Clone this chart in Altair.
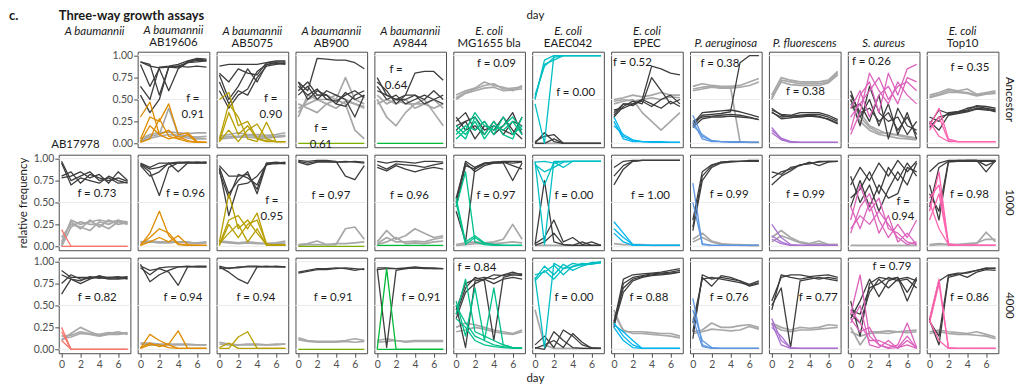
import altair as alt
import pandas as pd

# ---------------- data ----------------
DAYS = [0, 1, 2, 3, 4, 5, 6, 7]
SPECIES = ["A baumannii", "A baumannii", "A baumannii", "A baumannii", "A baumannii",
           "E. coli", "E. coli", "E. coli", "P. aeruginosa", "P. fluorescens", "S. aureus", "E. coli"]
STRAINS = ["AB17978", "AB19606", "AB5075", "AB900", "A9844", "MG1655 bla", "EAEC042", "EPEC",
           "", "", "", "Top10"]
COLORS = ["#F8766D", "#DE8C00", "#B79F00", "#7CAE00", "#00BA38", "#00C08B",
          "#00BFC4", "#00B4F0", "#5C95E0", "#A970D0", "#DC62BC", "#FF64B0"]
ROW_LABELS = ["Ancestor", "1000", "4000"]
Y_TICKS = [0, 0.25, 0.5, 0.75, 1.0]
X_TICKS = [0, 2, 4, 6]
GRID_Y = [0, 0.5, 1.0]
PANEL_TAG = "c."
MAIN_TITLE = "Three-way growth assays"
X_TITLE = "day"
Y_TITLE = "relative frequency"

# ---- Ancestor row ----
ANC_DARK = [
    [],
    [[0.93, 0.88, 0.86, 0.87, 0.88, 0.87, 0.88, 0.87], [0.93, 0.90, 0.55, 0.87, 0.86, 0.93, 0.96, 0.95],
     [0.90, 0.65, 0.85, 0.60, 0.85, 0.92, 0.95, 0.94], [0.65, 0.50, 0.87, 0.88, 0.90, 0.94, 0.97, 0.96],
     [0.55, 0.35, 0.50, 0.87, 0.88, 0.92, 0.93, 0.94]],
    [[0.88, 0.90, 0.90, 0.90, 0.90, 0.92, 0.93, 0.93], [0.80, 0.70, 0.85, 0.80, 0.78, 0.92, 0.94, 0.94],
     [0.78, 0.50, 0.65, 0.85, 0.70, 0.90, 0.92, 0.91], [0.70, 0.45, 0.60, 0.55, 0.75, 0.88, 0.90, 0.92],
     [0.60, 0.40, 0.55, 0.62, 0.82, 0.90, 0.91, 0.90]],
    [[0.70, 0.60, 0.97, 0.96, 0.95, 0.95, 0.92, 0.85], [0.65, 0.55, 0.62, 0.50, 0.48, 0.55, 0.60, 0.52],
     [0.60, 0.70, 0.55, 0.55, 0.45, 0.58, 0.50, 0.55], [0.70, 0.50, 0.60, 0.55, 0.45, 0.42, 0.55, 0.60],
     [0.55, 0.65, 0.50, 0.60, 0.55, 0.50, 0.30, 0.55]],
    [[0.75, 0.55, 0.50, 0.55, 0.80, 0.82, 0.82, 0.72], [0.70, 0.60, 0.45, 0.55, 0.55, 0.50, 0.60, 0.50],
     [0.65, 0.50, 0.55, 0.45, 0.50, 0.55, 0.50, 0.45], [0.60, 0.55, 0.50, 0.50, 0.55, 0.45, 0.50, 0.55]],
    [[0.25, 0.35, 0.15, 0.25, 0.10, 0.20, 0.35, 0.10], [0.20, 0.25, 0.05, 0.20, 0.15, 0.30, 0.15, 0.05],
     [0.30, 0.15, 0.20, 0.10, 0.25, 0.10, 0.25, 0.20], [0.15, 0.25, 0.30, 0.15, 0.20, 0.15, 0.10, 0.30]],
    [[0.00, 0.12, 0.02, 0.00, 0.00, 0.00, 0.00, 0.00], [0.02, 0.08, 0.10, 0.00, 0.00, 0.00, 0.00, 0.00],
     [0.00, 0.00, 0.05, 0.00, 0.00, 0.00, 0.00, 0.00]],
    [[0.35, 0.45, 0.45, 0.50, 0.88, 0.85, 0.80, 0.78], [0.30, 0.42, 0.48, 0.45, 0.75, 0.60, 0.45, 0.50],
     [0.38, 0.40, 0.45, 0.48, 0.42, 0.50, 0.55, 0.45], [0.32, 0.45, 0.43, 0.50, 0.45, 0.40, 0.48, 0.42]],
    [[0.20, 0.32, 0.33, 0.34, 0.36, 0.92, 1.00, 1.00], [0.22, 0.35, 0.36, 0.37, 0.38, 0.36, 0.33, 0.30],
     [0.25, 0.30, 0.31, 0.32, 0.33, 0.32, 0.30, 0.27], [0.18, 0.28, 0.30, 0.30, 0.31, 0.30, 0.29, 0.27]],
    [[0.38, 0.33, 0.32, 0.35, 0.35, 0.35, 0.32, 0.27], [0.35, 0.30, 0.31, 0.32, 0.33, 0.33, 0.30, 0.25],
     [0.40, 0.32, 0.30, 0.30, 0.31, 0.30, 0.28, 0.23], [0.36, 0.28, 0.29, 0.31, 0.32, 0.31, 0.27, 0.22]],
    [[0.60, 0.30, 0.50, 0.20, 0.45, 0.10, 0.35, 0.05], [0.50, 0.20, 0.65, 0.35, 0.25, 0.30, 0.10, 0.25],
     [0.40, 0.45, 0.25, 0.55, 0.05, 0.40, 0.20, 0.15], [0.55, 0.35, 0.40, 0.25, 0.35, 0.15, 0.30, 0.10]],
    [[0.30, 0.25, 0.35, 0.36, 0.38, 0.43, 0.42, 0.40], [0.22, 0.38, 0.34, 0.36, 0.40, 0.42, 0.40, 0.38],
     [0.18, 0.30, 0.33, 0.35, 0.37, 0.40, 0.39, 0.36], [0.25, 0.15, 0.32, 0.34, 0.36, 0.39, 0.38, 0.37]],
]
ANC_LIGHT = [
    [],
    [[0.05, 0.10, 0.12, 0.13, 0.12, 0.11, 0.12, 0.12], [0.03, 0.08, 0.10, 0.40, 0.10, 0.08, 0.07, 0.08],
     [0.02, 0.06, 0.08, 0.10, 0.09, 0.06, 0.05, 0.05]],
    [[0.08, 0.10, 0.12, 0.10, 0.10, 0.09, 0.10, 0.12], [0.06, 0.08, 0.08, 0.09, 0.08, 0.07, 0.08, 0.09],
     [0.05, 0.06, 0.07, 0.07, 0.06, 0.06, 0.07, 0.08]],
    [[0.35, 0.50, 0.55, 0.55, 0.50, 0.75, 0.50, 0.45], [0.40, 0.45, 0.50, 0.45, 0.50, 0.45, 0.15, 0.05],
     [0.30, 0.55, 0.50, 0.50, 0.55, 0.50, 0.45, 0.40], [0.45, 0.40, 0.35, 0.45, 0.40, 0.48, 0.45, 0.42]],
    [[0.55, 0.45, 0.50, 0.45, 0.45, 0.50, 0.35, 0.20], [0.50, 0.30, 0.20, 0.35, 0.45, 0.45, 0.40, 0.45],
     [0.45, 0.50, 0.45, 0.50, 0.40, 0.45, 0.50, 0.40]],
    [[0.55, 0.60, 0.63, 0.70, 0.66, 0.64, 0.60, 0.66], [0.52, 0.58, 0.62, 0.66, 0.68, 0.62, 0.63, 0.64],
     [0.50, 0.57, 0.60, 0.63, 0.64, 0.60, 0.61, 0.62]],
    [[0.00, 0.00, 0.00, 0.00, 0.00, 0.00, 0.00, 0.00]],
    [[0.50, 0.52, 0.55, 0.53, 0.55, 0.58, 0.55, 0.55], [0.48, 0.50, 0.48, 0.50, 0.52, 0.50, 0.53, 0.52],
     [0.45, 0.48, 0.50, 0.35, 0.25, 0.15, 0.25, 0.35]],
    [[0.65, 0.68, 0.66, 0.65, 0.65, 0.66, 0.70, 0.74], [0.62, 0.64, 0.65, 0.63, 0.63, 0.64, 0.66, 0.70],
     [0.60, 0.62, 0.64, 0.63, 0.64, 0.02, 0.01, 0.01]],
    [[0.55, 0.75, 0.72, 0.70, 0.70, 0.70, 0.72, 0.82], [0.50, 0.72, 0.70, 0.68, 0.68, 0.68, 0.70, 0.80],
     [0.52, 0.70, 0.67, 0.66, 0.66, 0.66, 0.69, 0.78]],
    [[0.55, 0.35, 0.20, 0.15, 0.10, 0.10, 0.08, 0.06], [0.50, 0.30, 0.18, 0.12, 0.12, 0.09, 0.07, 0.05],
     [0.45, 0.25, 0.15, 0.10, 0.08, 0.06, 0.05, 0.04]],
    [[0.55, 0.58, 0.62, 0.60, 0.62, 0.56, 0.58, 0.60], [0.53, 0.56, 0.60, 0.59, 0.58, 0.55, 0.57, 0.58],
     [0.52, 0.55, 0.58, 0.58, 0.57, 0.54, 0.56, 0.57]],
]
ANC_FOCAL = [
    [],
    [[0.30, 0.47, 0.10, 0.05, 0.08, 0.03, 0.01, 0.01], [0.05, 0.30, 0.25, 0.45, 0.10, 0.12, 0.02, 0.01],
     [0.02, 0.20, 0.10, 0.15, 0.05, 0.10, 0.01, 0.01], [0.01, 0.05, 0.28, 0.08, 0.05, 0.02, 0.01, 0.01]],
    [[0.50, 0.58, 0.20, 0.25, 0.05, 0.03, 0.02, 0.02], [0.05, 0.45, 0.30, 0.05, 0.02, 0.24, 0.02, 0.02],
     [0.02, 0.35, 0.10, 0.20, 0.05, 0.02, 0.02, 0.02], [0.02, 0.15, 0.02, 0.15, 0.22, 0.05, 0.02, 0.02]],
    [[0.00, 0.00, 0.00, 0.00, 0.00, 0.00, 0.00, 0.00]],
    [[0.00, 0.00, 0.00, 0.00, 0.00, 0.00, 0.00, 0.00]],
    [[0.15, 0.05, 0.30, 0.10, 0.25, 0.10, 0.05, 0.30], [0.20, 0.10, 0.25, 0.05, 0.20, 0.15, 0.25, 0.10],
     [0.10, 0.20, 0.15, 0.25, 0.10, 0.30, 0.10, 0.20], [0.05, 0.15, 0.35, 0.20, 0.15, 0.20, 0.30, 0.15]],
    [[0.50, 0.95, 1.00, 1.00, 1.00, 1.00, 1.00, 1.00], [0.55, 0.88, 0.98, 1.00, 1.00, 1.00, 1.00, 1.00],
     [0.45, 0.00, 1.00, 1.00, 1.00, 1.00, 1.00, 1.00], [0.52, 0.90, 0.95, 1.00, 1.00, 1.00, 1.00, 1.00]],
    [[0.30, 0.08, 0.03, 0.02, 0.02, 0.01, 0.01, 0.01], [0.25, 0.05, 0.02, 0.02, 0.01, 0.01, 0.01, 0.01],
     [0.20, 0.10, 0.04, 0.02, 0.02, 0.02, 0.01, 0.01]],
    [[0.32, 0.08, 0.03, 0.02, 0.02, 0.02, 0.01, 0.01], [0.25, 0.05, 0.02, 0.02, 0.01, 0.01, 0.01, 0.01],
     [0.20, 0.10, 0.03, 0.02, 0.02, 0.01, 0.01, 0.01]],
    [[0.18, 0.05, 0.02, 0.01, 0.01, 0.01, 0.01, 0.01], [0.12, 0.04, 0.01, 0.01, 0.01, 0.01, 0.01, 0.01],
     [0.15, 0.06, 0.02, 0.01, 0.01, 0.01, 0.01, 0.01]],
    [[0.15, 0.55, 0.70, 0.35, 0.80, 0.55, 0.85, 0.90], [0.30, 0.45, 0.60, 0.75, 0.50, 0.65, 0.70, 0.60],
     [0.40, 0.60, 0.30, 0.55, 0.65, 0.45, 0.75, 0.70], [0.10, 0.35, 0.80, 0.60, 0.45, 0.70, 0.55, 0.45]],
    [[0.20, 0.40, 0.05, 0.02, 0.02, 0.02, 0.02, 0.02], [0.25, 0.08, 0.02, 0.02, 0.02, 0.02, 0.02, 0.02],
     [0.15, 0.30, 0.03, 0.02, 0.02, 0.02, 0.02, 0.02]],
]
ANC_F = ["", "f =\n0.91", "f =\n0.90", "f =\n0.61", "f =\n0.64", "f = 0.09", "f = 0.00",
         "f = 0.52", "f = 0.38", "f = 0.38", "f = 0.26", "f = 0.35"]

# ---- 1000 generations row ----
G1K_DARK = [
    [[0.97, 0.75, 0.80, 0.85, 0.75, 0.78, 0.72, 0.73], [0.78, 0.80, 0.85, 0.78, 0.82, 0.72, 0.85, 0.75],
     [0.95, 0.70, 0.78, 0.75, 0.72, 0.80, 0.75, 0.72], [0.80, 0.85, 0.72, 0.82, 0.78, 0.75, 0.78, 0.74]],
    [[0.95, 0.90, 0.95, 0.95, 0.96, 0.96, 0.96, 0.96], [0.93, 0.85, 0.58, 0.90, 0.95, 0.95, 0.95, 0.95],
     [0.92, 0.80, 0.85, 0.95, 0.85, 0.95, 0.96, 0.95], [0.94, 0.88, 0.90, 0.94, 0.95, 0.96, 0.95, 0.96]],
    [[0.92, 0.80, 0.80, 0.82, 0.65, 0.95, 0.96, 0.95], [0.90, 0.60, 0.75, 0.85, 0.60, 0.94, 0.95, 0.96],
     [0.88, 0.35, 0.70, 0.72, 0.80, 0.93, 0.95, 0.94], [0.85, 0.55, 0.82, 0.78, 0.70, 0.95, 0.94, 0.95]],
    [[0.98, 0.97, 0.98, 0.98, 0.97, 0.80, 0.76, 0.92], [0.97, 0.95, 0.97, 0.97, 0.96, 0.97, 0.96, 0.95],
     [0.96, 0.93, 0.96, 0.96, 0.96, 0.96, 0.97, 0.96]],
    [[0.97, 0.95, 0.97, 0.96, 0.95, 0.97, 0.97, 0.96], [0.93, 0.88, 0.94, 0.93, 0.92, 0.90, 0.93, 0.95],
     [0.90, 0.86, 0.92, 0.88, 0.85, 0.88, 0.90, 0.88]],
    [[0.50, 0.97, 0.90, 0.95, 0.96, 0.97, 0.97, 0.97], [0.55, 0.95, 0.85, 0.92, 0.95, 0.95, 0.75, 0.95],
     [0.45, 0.92, 0.88, 0.94, 0.95, 0.96, 0.92, 0.88], [0.40, 0.05, 0.90, 0.95, 0.96, 0.96, 0.95, 0.96]],
    [[0.02, 0.75, 0.05, 0.02, 0.01, 0.01, 0.01, 0.01], [0.03, 0.10, 0.30, 0.05, 0.10, 0.02, 0.05, 0.01],
     [0.01, 0.05, 0.15, 0.02, 0.01, 0.05, 0.01, 0.01]],
    [[0.90, 0.97, 0.98, 0.98, 0.98, 0.98, 0.98, 0.98], [0.80, 0.92, 0.97, 0.98, 0.98, 0.98, 0.98, 0.98],
     [0.70, 0.88, 0.97, 0.98, 0.98, 0.98, 0.98, 0.98]],
    [[0.22, 0.80, 0.92, 0.96, 0.97, 0.97, 0.98, 0.98], [0.30, 0.85, 0.93, 0.96, 0.97, 0.97, 0.97, 0.97],
     [0.18, 0.75, 0.90, 0.95, 0.96, 0.97, 0.97, 0.97]],
    [[0.78, 0.85, 0.88, 0.93, 0.95, 0.96, 0.97, 0.97], [0.85, 0.82, 0.90, 0.92, 0.96, 0.92, 0.96, 0.97],
     [0.70, 0.80, 0.86, 0.93, 0.94, 0.97, 0.97, 0.97]],
    [[0.70, 0.90, 0.75, 0.95, 0.80, 0.98, 0.85, 0.97], [0.55, 0.65, 0.85, 0.60, 0.90, 0.75, 0.95, 0.80],
     [0.80, 0.50, 0.70, 0.40, 0.65, 0.85, 0.70, 0.95], [0.45, 0.75, 0.45, 0.70, 0.55, 0.60, 0.90, 0.85]],
    [[0.85, 0.95, 0.98, 0.98, 0.98, 0.98, 0.85, 0.98], [0.60, 0.40, 0.97, 0.98, 0.98, 0.98, 0.92, 0.97],
     [0.45, 0.90, 0.97, 0.97, 0.97, 0.97, 0.97, 0.97], [0.70, 0.30, 0.96, 0.97, 0.98, 0.98, 0.98, 0.98]],
]
G1K_LIGHT = [
    [[0.02, 0.30, 0.25, 0.28, 0.30, 0.28, 0.29, 0.28], [0.05, 0.28, 0.20, 0.30, 0.22, 0.30, 0.25, 0.27],
     [0.10, 0.25, 0.22, 0.18, 0.28, 0.25, 0.30, 0.26], [0.00, 0.22, 0.28, 0.25, 0.25, 0.20, 0.28, 0.25]],
    [[0.05, 0.06, 0.05, 0.05, 0.05, 0.04, 0.04, 0.05], [0.04, 0.05, 0.04, 0.04, 0.05, 0.05, 0.03, 0.04]],
    [[0.06, 0.05, 0.04, 0.05, 0.04, 0.03, 0.04, 0.06], [0.05, 0.04, 0.03, 0.04, 0.03, 0.03, 0.03, 0.04]],
    [[0.02, 0.03, 0.06, 0.02, 0.02, 0.20, 0.22, 0.08], [0.01, 0.02, 0.02, 0.02, 0.03, 0.03, 0.04, 0.05]],
    [[0.05, 0.18, 0.08, 0.12, 0.20, 0.15, 0.10, 0.12], [0.03, 0.10, 0.05, 0.05, 0.06, 0.05, 0.08, 0.10],
     [0.02, 0.05, 0.10, 0.03, 0.04, 0.03, 0.05, 0.06]],
    [[0.02, 0.04, 0.05, 0.04, 0.05, 0.08, 0.25, 0.08], [0.01, 0.02, 0.03, 0.03, 0.03, 0.04, 0.05, 0.04]],
    [[0.01, 0.01, 0.01, 0.01, 0.01, 0.01, 0.01, 0.01]],
    [[0.03, 0.02, 0.02, 0.02, 0.01, 0.01, 0.01, 0.01]],
    [[0.08, 0.15, 0.06, 0.03, 0.02, 0.02, 0.01, 0.01], [0.05, 0.10, 0.05, 0.02, 0.02, 0.01, 0.01, 0.01]],
    [[0.10, 0.18, 0.10, 0.05, 0.03, 0.06, 0.02, 0.02], [0.05, 0.12, 0.08, 0.04, 0.02, 0.03, 0.02, 0.02]],
    [[0.01, 0.01, 0.01, 0.01, 0.01, 0.01, 0.01, 0.01]],
    [[0.02, 0.03, 0.02, 0.02, 0.02, 0.03, 0.16, 0.05], [0.01, 0.02, 0.02, 0.02, 0.03, 0.04, 0.08, 0.08]],
]
G1K_FOCAL = [
    [[0.19, 0.00, 0.00, 0.00, 0.00, 0.00, 0.00, 0.00], [0.00, 0.00, 0.00, 0.00, 0.00, 0.00, 0.00, 0.00]],
    [[0.01, 0.15, 0.40, 0.12, 0.02, 0.01, 0.01, 0.01], [0.02, 0.10, 0.20, 0.15, 0.03, 0.01, 0.01, 0.01],
     [0.01, 0.05, 0.10, 0.05, 0.12, 0.02, 0.01, 0.01]],
    [[0.05, 0.60, 0.20, 0.30, 0.15, 0.02, 0.02, 0.02], [0.02, 0.30, 0.35, 0.20, 0.38, 0.02, 0.02, 0.02],
     [0.01, 0.25, 0.10, 0.25, 0.30, 0.03, 0.01, 0.01], [0.03, 0.15, 0.25, 0.05, 0.20, 0.01, 0.01, 0.01]],
    [[0.00, 0.00, 0.00, 0.00, 0.00, 0.00, 0.00, 0.00]],
    [[0.01, 0.01, 0.01, 0.01, 0.01, 0.01, 0.01, 0.01]],
    [[0.50, 0.02, 0.10, 0.03, 0.02, 0.01, 0.01, 0.01], [0.45, 0.85, 0.05, 0.02, 0.01, 0.01, 0.01, 0.01],
     [0.55, 0.05, 0.12, 0.04, 0.02, 0.01, 0.01, 0.01]],
    [[0.97, 0.02, 0.97, 0.97, 0.97, 0.97, 0.97, 0.97], [0.95, 0.70, 0.96, 0.90, 0.97, 0.97, 0.97, 0.97],
     [0.96, 0.97, 0.95, 0.97, 0.97, 0.97, 0.97, 0.97], [0.93, 0.85, 0.90, 0.96, 0.97, 0.97, 0.97, 0.97]],
    [[0.28, 0.15, 0.02, 0.01, 0.01, 0.01, 0.01, 0.01], [0.20, 0.10, 0.02, 0.01, 0.01, 0.01, 0.01, 0.01],
     [0.15, 0.05, 0.01, 0.01, 0.01, 0.01, 0.01, 0.01]],
    [[0.72, 0.02, 0.01, 0.01, 0.01, 0.01, 0.01, 0.01], [0.50, 0.03, 0.01, 0.01, 0.01, 0.01, 0.01, 0.01]],
    [[0.25, 0.10, 0.02, 0.01, 0.01, 0.01, 0.01, 0.01], [0.12, 0.05, 0.01, 0.01, 0.01, 0.01, 0.01, 0.01],
     [0.08, 0.03, 0.01, 0.01, 0.01, 0.01, 0.01, 0.01]],
    [[0.30, 0.70, 0.40, 0.55, 0.20, 0.15, 0.05, 0.02], [0.15, 0.45, 0.60, 0.30, 0.10, 0.25, 0.10, 0.30],
     [0.45, 0.20, 0.50, 0.15, 0.35, 0.05, 0.15, 0.02], [0.20, 0.35, 0.25, 0.40, 0.25, 0.10, 0.02, 0.05]],
    [[0.40, 0.85, 0.02, 0.01, 0.01, 0.01, 0.01, 0.01], [0.55, 0.70, 0.03, 0.01, 0.01, 0.01, 0.01, 0.01],
     [0.30, 0.60, 0.01, 0.01, 0.01, 0.01, 0.01, 0.01], [0.50, 0.20, 0.02, 0.01, 0.01, 0.01, 0.01, 0.01]],
]
G1K_F = ["f = 0.73", "f = 0.96", "f =\n0.95", "f = 0.97", "f = 0.96", "f = 0.97", "f = 0.00",
         "f = 1.00", "f = 0.99", "f = 0.99", "f =\n0.94", "f = 0.98"]

# ---- 4000 generations row ----
G4K_DARK = [
    [[0.90, 0.82, 0.82, 0.82, 0.83, 0.82, 0.81, 0.82], [0.63, 0.80, 0.75, 0.80, 0.84, 0.81, 0.82, 0.83],
     [0.75, 0.85, 0.80, 0.81, 0.82, 0.80, 0.80, 0.81], [0.85, 0.80, 0.78, 0.83, 0.81, 0.82, 0.83, 0.80]],
    [[0.97, 0.77, 0.85, 0.90, 0.94, 0.94, 0.94, 0.94], [0.95, 0.90, 0.92, 0.88, 0.73, 0.94, 0.95, 0.95],
     [0.93, 0.85, 0.93, 0.94, 0.94, 0.95, 0.94, 0.94]],
    [[0.94, 0.88, 0.80, 0.75, 0.94, 0.94, 0.94, 0.94], [0.95, 0.92, 0.94, 0.94, 0.94, 0.95, 0.94, 0.94],
     [0.92, 0.93, 0.93, 0.95, 0.95, 0.94, 0.95, 0.94]],
    [[0.88, 0.90, 0.92, 0.92, 0.93, 0.92, 0.90, 0.92], [0.87, 0.89, 0.91, 0.91, 0.92, 0.93, 0.92, 0.91]],
    [[0.92, 0.02, 0.90, 0.92, 0.93, 0.93, 0.92, 0.92], [0.93, 0.93, 0.92, 0.93, 0.94, 0.93, 0.93, 0.92],
     [0.91, 0.92, 0.92, 0.92, 0.93, 0.92, 0.92, 0.92]],
    [[0.45, 0.75, 0.80, 0.82, 0.80, 0.85, 0.88, 0.85], [0.50, 0.02, 0.78, 0.80, 0.85, 0.84, 0.86, 0.86],
     [0.40, 0.70, 0.82, 0.78, 0.10, 0.82, 0.85, 0.84], [0.35, 0.65, 0.75, 0.80, 0.75, 0.80, 0.82, 0.80]],
    [[0.02, 0.00, 0.20, 0.10, 0.02, 0.01, 0.01, 0.01], [0.05, 0.15, 0.02, 0.22, 0.15, 0.05, 0.02, 0.01],
     [0.01, 0.05, 0.10, 0.02, 0.18, 0.08, 0.01, 0.01]],
    [[0.30, 0.80, 0.85, 0.86, 0.87, 0.88, 0.90, 0.92], [0.25, 0.75, 0.82, 0.84, 0.86, 0.87, 0.88, 0.90],
     [0.32, 0.70, 0.80, 0.83, 0.85, 0.86, 0.87, 0.88], [0.28, 0.65, 0.78, 0.82, 0.84, 0.85, 0.86, 0.88]],
    [[0.12, 0.85, 0.80, 0.82, 0.80, 0.78, 0.72, 0.75], [0.20, 0.82, 0.72, 0.84, 0.82, 0.78, 0.74, 0.78],
     [0.30, 0.80, 0.82, 0.80, 0.78, 0.76, 0.73, 0.76]],
    [[0.55, 0.82, 0.85, 0.85, 0.83, 0.84, 0.85, 0.82], [0.50, 0.70, 0.02, 0.78, 0.80, 0.82, 0.80, 0.78],
     [0.45, 0.85, 0.82, 0.80, 0.82, 0.80, 0.82, 0.80]],
    [[0.55, 0.15, 0.75, 0.82, 0.80, 0.82, 0.55, 0.80], [0.45, 0.40, 0.70, 0.75, 0.82, 0.78, 0.80, 0.70],
     [0.35, 0.55, 0.80, 0.60, 0.78, 0.82, 0.65, 0.82], [0.40, 0.30, 0.65, 0.80, 0.70, 0.80, 0.82, 0.78]],
    [[0.33, 0.78, 0.85, 0.87, 0.87, 0.90, 0.92, 0.93], [0.33, 0.05, 0.82, 0.85, 0.88, 0.90, 0.93, 0.92],
     [0.32, 0.15, 0.84, 0.86, 0.82, 0.88, 0.91, 0.90]],
]
G4K_LIGHT = [
    [[0.10, 0.18, 0.25, 0.20, 0.16, 0.18, 0.20, 0.17], [0.15, 0.16, 0.20, 0.18, 0.17, 0.19, 0.18, 0.19],
     [0.12, 0.14, 0.18, 0.17, 0.15, 0.17, 0.17, 0.18]],
    [[0.07, 0.07, 0.06, 0.06, 0.06, 0.06, 0.05, 0.05], [0.06, 0.05, 0.05, 0.05, 0.05, 0.05, 0.05, 0.05]],
    [[0.08, 0.06, 0.05, 0.06, 0.06, 0.05, 0.06, 0.06], [0.06, 0.05, 0.05, 0.05, 0.05, 0.05, 0.05, 0.06]],
    [[0.13, 0.10, 0.09, 0.09, 0.09, 0.10, 0.12, 0.10], [0.11, 0.09, 0.08, 0.08, 0.08, 0.09, 0.08, 0.09]],
    [[0.10, 0.12, 0.10, 0.09, 0.10, 0.10, 0.10, 0.10], [0.08, 0.09, 0.10, 0.08, 0.09, 0.09, 0.09, 0.09]],
    [[0.25, 0.30, 0.28, 0.25, 0.22, 0.20, 0.18, 0.22], [0.20, 0.22, 0.25, 0.23, 0.20, 0.18, 0.17, 0.20]],
    [[0.45, 0.05, 0.01, 0.01, 0.01, 0.01, 0.01, 0.01]],
    [[0.45, 0.20, 0.20, 0.20, 0.19, 0.18, 0.18, 0.15], [0.40, 0.22, 0.18, 0.18, 0.17, 0.16, 0.15, 0.13]],
    [[0.20, 0.22, 0.30, 0.25, 0.25, 0.27, 0.28, 0.25], [0.18, 0.20, 0.23, 0.22, 0.21, 0.22, 0.26, 0.23]],
    [[0.30, 0.25, 0.22, 0.25, 0.24, 0.25, 0.28, 0.27], [0.28, 0.22, 0.20, 0.22, 0.22, 0.23, 0.24, 0.25]],
    [[0.25, 0.05, 0.20, 0.20, 0.21, 0.20, 0.21, 0.22], [0.20, 0.15, 0.18, 0.19, 0.18, 0.20, 0.19, 0.20]],
    [[0.20, 0.22, 0.20, 0.19, 0.18, 0.20, 0.17, 0.14], [0.18, 0.20, 0.18, 0.17, 0.17, 0.16, 0.15, 0.12]],
]
G4K_FOCAL = [
    [[0.25, 0.00, 0.00, 0.00, 0.00, 0.00, 0.00, 0.00], [0.20, 0.00, 0.00, 0.00, 0.00, 0.00, 0.00, 0.00],
     [0.10, 0.00, 0.00, 0.00, 0.00, 0.00, 0.00, 0.00]],
    [[0.01, 0.17, 0.10, 0.05, 0.01, 0.01, 0.01, 0.01], [0.02, 0.07, 0.03, 0.06, 0.21, 0.01, 0.01, 0.01],
     [0.01, 0.05, 0.05, 0.02, 0.01, 0.01, 0.01, 0.01]],
    [[0.01, 0.01, 0.14, 0.20, 0.01, 0.01, 0.01, 0.01], [0.02, 0.07, 0.01, 0.01, 0.01, 0.01, 0.01, 0.01]],
    [[0.00, 0.00, 0.00, 0.00, 0.00, 0.00, 0.00, 0.00]],
    [[0.00, 0.92, 0.00, 0.00, 0.00, 0.00, 0.00, 0.00], [0.00, 0.00, 0.00, 0.00, 0.00, 0.00, 0.00, 0.00]],
    [[0.40, 0.80, 0.20, 0.15, 0.10, 0.05, 0.02, 0.02], [0.50, 0.30, 0.15, 0.10, 0.70, 0.05, 0.02, 0.02],
     [0.35, 0.25, 0.10, 0.05, 0.03, 0.02, 0.01, 0.01], [0.55, 0.15, 0.70, 0.10, 0.05, 0.03, 0.02, 0.02]],
    [[0.80, 0.95, 0.85, 0.97, 0.90, 0.95, 0.98, 0.99], [0.82, 0.02, 0.98, 0.92, 0.98, 0.96, 0.99, 0.99],
     [0.78, 0.90, 0.80, 0.92, 0.94, 0.97, 0.98, 1.00], [0.85, 0.88, 0.96, 0.85, 0.95, 0.98, 0.97, 0.99]],
    [[0.30, 0.15, 0.05, 0.01, 0.01, 0.01, 0.01, 0.01], [0.28, 0.20, 0.10, 0.01, 0.01, 0.01, 0.01, 0.01],
     [0.25, 0.10, 0.02, 0.01, 0.01, 0.01, 0.01, 0.01]],
    [[0.58, 0.05, 0.01, 0.01, 0.01, 0.01, 0.01, 0.01], [0.45, 0.10, 0.02, 0.01, 0.01, 0.01, 0.01, 0.01],
     [0.35, 0.03, 0.01, 0.01, 0.01, 0.01, 0.01, 0.01]],
    [[0.35, 0.10, 0.02, 0.01, 0.01, 0.01, 0.01, 0.01], [0.25, 0.15, 0.01, 0.01, 0.01, 0.01, 0.01, 0.01],
     [0.30, 0.05, 0.01, 0.01, 0.01, 0.01, 0.01, 0.01]],
    [[0.40, 0.85, 0.15, 0.05, 0.02, 0.05, 0.30, 0.02], [0.45, 0.30, 0.10, 0.10, 0.05, 0.02, 0.15, 0.01],
     [0.30, 0.50, 0.05, 0.02, 0.10, 0.01, 0.10, 0.02], [0.35, 0.20, 0.25, 0.05, 0.01, 0.02, 0.05, 0.01]],
    [[0.35, 0.80, 0.01, 0.01, 0.01, 0.01, 0.01, 0.01], [0.30, 0.75, 0.02, 0.01, 0.01, 0.01, 0.01, 0.01],
     [0.33, 0.10, 0.01, 0.01, 0.01, 0.01, 0.01, 0.01]],
]
G4K_F = ["f = 0.82", "f = 0.94", "f = 0.94", "f = 0.91", "f = 0.91", "f = 0.84", "f = 0.00",
         "f = 0.88", "f = 0.76", "f = 0.77", "f = 0.79", "f = 0.86"]

# annotation anchor of each "f = ..." label, in data units (day, frequency)
ANC_F_DAY = [0, 5.55, 5.45, 2.4, 2.0, 4.27, 4.3, 1.96, 2.87, 3.57, 2.2, 4.27]
ANC_F_FREQ = [0, 0.50, 0.50, 0.165, 0.835, 0.90, 0.57, 0.92, 0.90, 0.58, 0.93, 0.86]
G1K_F_DAY = [3.74, 4.76, 5.56, 3.46, 3.43, 4.23, 4.13, 3.88, 3.85, 3.57, 5.56, 4.23]
G1K_F_FREQ = [0.60, 0.60, 0.52, 0.57, 0.57, 0.57, 0.57, 0.57, 0.58, 0.58, 0.51, 0.58]
G4K_F_DAY = [3.78, 4.5, 3.88, 3.7, 4.65, 2.2, 4.13, 3.7, 3.85, 4.93, 4.37, 4.23]
G4K_F_FREQ = [0.58, 0.58, 0.58, 0.58, 0.58, 0.93, 0.58, 0.58, 0.58, 0.58, 0.94, 0.58]

DARK_ROWS = [ANC_DARK, G1K_DARK, G4K_DARK]
LIGHT_ROWS = [ANC_LIGHT, G1K_LIGHT, G4K_LIGHT]
FOCAL_ROWS = [ANC_FOCAL, G1K_FOCAL, G4K_FOCAL]
F_ROWS = [ANC_F, G1K_F, G4K_F]
F_DAY_ROWS = [ANC_F_DAY, G1K_F_DAY, G4K_F_DAY]
F_FREQ_ROWS = [ANC_F_FREQ, G1K_F_FREQ, G4K_F_FREQ]

# ---------------- styling ----------------
W, H = 72, 96
FONT = "Lato"
INK = "#1a1a1a"
DARK_GREY = "#3d3d3d"
LIGHT_GREY = "#a8a8a8"
XS = alt.Scale(domain=[-0.3, 7.3], nice=False, zero=False)
YS = alt.Scale(domain=[-0.045, 1.045], nice=False, zero=False)


def long_df(reps):
    rows = []
    for i, rep in enumerate(reps):
        for d, v in zip(DAYS, rep):
            rows.append({"rep": i, "day": d, "v": v})
    return pd.DataFrame(rows)


def txt(s, x, y, size=11.5, weight="normal", align="center", baseline="middle", angle=0):
    return alt.Chart(pd.DataFrame({"t": [s]})).mark_text(
        font=FONT, fontSize=size, fontWeight=weight, color=INK, align=align, baseline=baseline, angle=angle
    ).encode(text="t:N", x=alt.value(x), y=alt.value(y))


def panel(r, c):
    show_y = (c == 0) or (r == 0 and c == 1)
    show_x = r == 2
    ytitle = Y_TITLE if (r == 1 and c == 0) else None
    yaxis = alt.Axis(values=Y_TICKS, format=".2f", labelPadding=1, tickSize=4, titlePadding=5) if show_y else None
    xaxis = alt.Axis(values=X_TICKS, format="d", labelPadding=2, tickSize=4) if show_x else None

    def xe(field):
        return alt.X(field, scale=XS, axis=xaxis, title=None)

    def ye(field):
        return alt.Y(field, scale=YS, axis=yaxis, title=ytitle)

    layers = [
        alt.Chart(pd.DataFrame({"g": GRID_Y})).mark_rule(color="#ebebeb", strokeWidth=1).encode(y=ye("g:Q"))
    ]
    groups = [(LIGHT_ROWS[r][c], LIGHT_GREY, 1.7),
              (DARK_ROWS[r][c], DARK_GREY, 1.3),
              (FOCAL_ROWS[r][c], COLORS[c], 1.3)]
    for reps, color, sw in groups:
        if reps:
            layers.append(
                alt.Chart(long_df(reps)).mark_line(color=color, strokeWidth=sw, strokeJoin="round").encode(
                    x=xe("day:Q"), y=ye("v:Q"), detail="rep:N")
            )
    fdf = pd.DataFrame({"t": [F_ROWS[r][c]], "fx": [F_DAY_ROWS[r][c]], "fy": [F_FREQ_ROWS[r][c]]})
    layers.append(
        alt.Chart(fdf).mark_text(font=FONT, fontSize=11.5, color=INK, lineBreak="\n", lineHeight=16,
                                 baseline="middle").encode(x=xe("fx:Q"), y=ye("fy:Q"), text="t:N")
    )
    if c == 11:
        layers.append(txt(ROW_LABELS[r], W + 11, H / 2, angle=90))
    if r == 1 and c == 0:
        # figure-level texts, anchored to this untitled panel (top-left at page x 58, y 153)
        layers += [
            txt(PANEL_TAG, -50, -135, size=13, weight="bold", align="left", baseline="alphabetic"),
            txt(MAIN_TITLE, 0, -135, size=13, weight="bold", align="left", baseline="alphabetic"),
            txt(X_TITLE, 479, -139.5),
            txt(X_TITLE, 479, 225),
        ]
    ch = alt.layer(*layers).properties(width=W, height=H)
    if r == 0:
        if STRAINS[c]:
            ch = ch.properties(title=alt.TitleParams(SPECIES[c], subtitle=STRAINS[c], frame="group"))
        else:
            ch = ch.properties(title=alt.TitleParams(SPECIES[c], frame="group"))
    return ch


def placeholder():
    return alt.layer(txt(STRAINS[0], 41, 94, align="right")).properties(
        width=W, height=H,
        view=alt.ViewBackground(stroke="transparent"),
        title=alt.TitleParams(SPECIES[0], subtitle=" ", frame="group"),
    )


cells = []
for r in range(3):
    for c in range(12):
        if r == 0 and c == 0:
            cells.append(placeholder())
        else:
            cells.append(panel(r, c))

chart = alt.concat(
    *cells, columns=12, spacing={"row": 7.5, "column": 7.3}, bounds="flush"
).properties(padding=0).configure_view(
    stroke="#4d4d4d", strokeWidth=1
).configure_axis(
    labelFont=FONT, labelFontSize=10.5, labelColor="#4d4d4d", tickColor="#4d4d4d",
    domain=False, grid=False, titleFont=FONT, titleFontSize=11.5, titleFontWeight="normal",
    titleColor=INK
).configure_title(
    font=FONT, fontSize=11.5, fontStyle="italic", fontWeight="normal", color=INK,
    subtitleFont=FONT, subtitleFontSize=11.5, subtitleFontStyle="normal", subtitleColor=INK,
    subtitlePadding=1, offset=2, anchor="middle"
)

chart.save("out.html", embed_options={"renderer": "svg", "actions": False})
